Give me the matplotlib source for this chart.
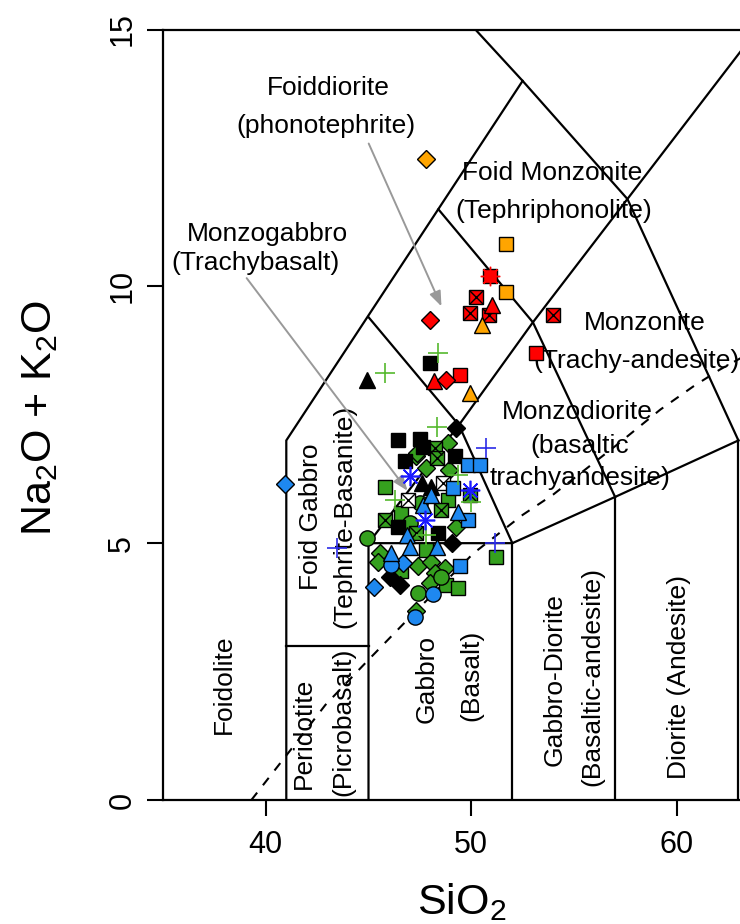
import matplotlib
matplotlib.use("Agg")
import matplotlib.pyplot as plt

plt.rcParams['font.family'] = ['Liberation Sans', 'DejaVu Sans']
plt.rcParams['mathtext.fontset'] = 'custom'
plt.rcParams['mathtext.rm'] = 'Liberation Sans'
plt.rcParams['mathtext.default'] = 'regular'

# ---------------- data (SiO2, Na2O+K2O) ----------------
green_sq_x = [45.82, 46.60, 48.87, 47.82, 51.22, 46.60, 48.79, 49.36]
green_sq_y = [6.10, 5.59, 5.84, 4.87, 4.74, 4.45, 4.19, 4.12]
green_dia_x = [48.87, 47.33, 48.90, 47.82, 47.35, 45.55, 45.47, 47.41, 48.06, 48.71, 48.22, 47.98, 47.33, 49.28]
green_dia_y = [6.95, 6.69, 6.43, 6.46, 6.76, 4.81, 4.64, 4.55, 4.64, 4.51, 4.42, 4.22, 3.67, 5.32]
green_circ_x = [44.95, 48.55, 47.41, 47.49, 47.00]
green_circ_y = [5.10, 4.35, 4.03, 5.78, 5.39]
green_bx_x = [48.22, 48.31, 49.93, 45.80, 48.55, 47.33]
green_bx_y = [6.85, 6.66, 5.94, 5.45, 5.65, 5.20]
green_plus_x = [48.31, 49.36, 50.00, 46.28, 47.82, 48.39, 45.79]
green_plus_y = [7.27, 6.33, 5.80, 5.84, 5.16, 8.70, 8.32]

black_sq_x = [46.44, 47.53, 47.66, 46.76, 49.20, 46.44, 48.39, 47.98]
black_sq_y = [7.01, 7.03, 6.88, 6.59, 6.69, 5.32, 5.20, 8.50]
black_dia_x = [49.28, 49.04, 46.03, 46.52]
black_dia_y = [7.24, 5.00, 4.35, 4.19]
black_tri_x = [44.92, 47.58, 48.06]
black_tri_y = [8.18, 6.17, 6.10]
black_bx_x = [48.63, 46.93]
black_bx_y = [6.17, 5.84]

blue_sq_x = [49.84, 50.41, 49.11, 49.84, 49.44]
blue_sq_y = [6.53, 6.53, 6.07, 5.45, 4.55]
blue_dia_x = [40.96, 46.68, 45.27]
blue_dia_y = [6.16, 4.61, 4.14]
blue_circ_x = [46.11, 48.14, 47.25]
blue_circ_y = [4.58, 4.01, 3.57]
blue_tri_x = [47.66, 48.06, 49.36, 46.85, 46.08, 47.01, 48.31]
blue_tri_y = [5.75, 5.94, 5.61, 5.16, 4.81, 4.93, 4.93]
blue_plus_x = [50.74, 51.14, 43.45]
blue_plus_y = [6.85, 5.00, 4.90]
blue_ast_x = [47.00, 49.93, 47.74]
blue_ast_y = [6.30, 6.04, 5.45]

red_sq_x = [50.93, 53.17, 49.43]
red_sq_y = [10.21, 8.70, 8.28]
red_ast_x = [50.93]
red_ast_y = [10.21]
red_bx_x = [50.25, 49.96, 50.87, 53.98]
red_bx_y = [9.80, 9.49, 9.45, 9.45]
red_tri_x = [51.03, 48.17]
red_tri_y = [9.64, 8.15]
red_dia_x = [48.01, 48.79]
red_dia_y = [9.34, 8.18]

orange_sq_x = [51.68, 51.68]
orange_sq_y = [10.83, 9.89]
orange_dia_x = [47.82]
orange_dia_y = [12.47]
orange_tri_x = [50.50, 49.93]
orange_tri_y = [9.25, 7.92]

divide_x = [39.3, 41.2, 42.9, 45.0, 46.8, 50.1, 52.5, 54.0, 57.2, 59.2, 60.8, 62.1, 63.1]
divide_y = [0.0, 0.97, 1.85, 2.73, 3.47, 4.80, 5.55, 5.95, 6.95, 7.60, 8.05, 8.38, 8.60]

# field boundaries
boundaries = [
    ([41, 41, 52.5, 50.2], [0, 7, 14, 15]),
    ([52.5, 57.6, 63], [14, 11.7, 7]),
    ([41, 45], [3, 3]),
    ([45, 45, 52, 57, 63], [0, 5, 5, 5.9, 7]),
    ([52, 52], [0, 5]),
    ([57, 57], [0, 5.9]),
    ([63, 63], [0, 7]),
    ([45, 49.4, 53, 57.6, 63.1], [5, 7.3, 9.3, 11.7, 14.57]),
    ([45, 49.4, 52], [9.4, 7.3, 5]),
    ([48.4, 53, 57], [11.5, 9.3, 5.9]),
]

labels_h = [
    ("Foiddiorite", 43.03, 13.86), ("(phonotephrite)", 42.94, 13.12),
    ("Foid Monzonite", 53.93, 12.21), ("(Tephriphonolite)", 54.01, 11.46),
    ("Monzogabbro", 40.06, 11.01), ("(Trachybasalt)", 39.48, 10.46),
    ("Monzonite", 58.42, 9.29), ("(Trachy-andesite)", 58.06, 8.54),
    ("Monzodiorite", 55.18, 7.56), ("(basaltic", 55.28, 6.90), ("trachyandesite)", 55.28, 6.27),
]
labels_v = [
    ("Foid Gabbro", 42.22, 5.52), ("(Tephrite-Basanite)", 43.84, 5.53),
    ("Foidolite", 37.96, 2.26),
    ("Peridotite", 41.87, 1.29), ("(Picrobasalt)", 43.78, 1.53),
    ("Gabbro", 47.84, 2.36), ("(Basalt)", 50.02, 2.42),
    ("Gabbro-Diorite", 54.04, 2.34), ("(Basaltic-andesite)", 55.88, 2.40),
    ("Diorite (Andesite)", 60.13, 2.40),
]
arrows = [((45.01, 12.78), (48.55, 9.61)), ((39.07, 10.16), (46.90, 6.02))]

# ---------------- figure ----------------
W, H = 740, 924
fig = plt.figure(figsize=(W / 100, H / 100), dpi=100)
ax = fig.add_axes([163 / W, 124 / H, 1 - 163 / W, (800 - 29.5) / H])
ax.set_xlim(35, 35 + (W - 163) / 20.55)
ax.set_ylim(0, 15)

for bx, by in boundaries:
    ax.plot(bx, by, color='black', lw=1.6, solid_joinstyle='miter', zorder=2)
ax.plot(divide_x, divide_y, color='black', lw=1.5, linestyle=(0, (4.5, 4.5)), zorder=2)

for t, x, y in labels_h:
    ax.text(x, y, t, fontsize=19, ha='center', va='center', zorder=3)
for t, x, y in labels_v:
    ax.text(x, y, t, fontsize=19, ha='center', va='center', rotation=90, zorder=3)

for (x0, y0), (x1, y1) in arrows:
    ax.annotate('', xy=(x1, y1), xytext=(x0, y0),
                arrowprops=dict(arrowstyle='-|>,head_length=0.9,head_width=0.35',
                                color='#999999', lw=1.4, shrinkA=0, shrinkB=0), zorder=4)

GREEN = '#35A01E'
BLUE = '#1E88F0'
RED = '#FF0000'
ORANGE = '#FFA500'
EW = 1.0
SQ, DI, CI, TR = 10.5, 9.0, 11.0, 12.0

def filled(xs, ys, marker, color, ms):
    ax.plot(xs, ys, linestyle='none', marker=marker, ms=ms, mfc=color,
            mec='black', mew=EW, zorder=5)

def boxed(xs, ys, color):
    ax.plot(xs, ys, linestyle='none', marker='s', ms=SQ, mfc=color, mec='black', mew=EW, zorder=5)
    ax.plot(xs, ys, linestyle='none', marker='x', ms=SQ - 1, mec='black', mew=EW, zorder=5)

# green group
filled(green_sq_x, green_sq_y, 's', GREEN, SQ)
filled(green_dia_x, green_dia_y, 'D', GREEN, DI)
filled(green_circ_x, green_circ_y, 'o', GREEN, CI)
boxed(green_bx_x, green_bx_y, GREEN)
ax.plot(green_plus_x, green_plus_y, linestyle='none', marker='+', ms=15, mew=1.2,
        color='#55B92E', zorder=6)
# black group
filled(black_sq_x, black_sq_y, 's', 'black', SQ)
filled(black_dia_x, black_dia_y, 'D', 'black', DI)
filled(black_tri_x, black_tri_y, '^', 'black', TR)
boxed(black_bx_x, black_bx_y, 'white')
# blue group
filled(blue_sq_x, blue_sq_y, 's', BLUE, SQ)
filled(blue_dia_x, blue_dia_y, 'D', BLUE, DI)
filled(blue_circ_x, blue_circ_y, 'o', BLUE, CI)
filled(blue_tri_x, blue_tri_y, '^', BLUE, TR)
ax.plot(blue_plus_x, blue_plus_y, linestyle='none', marker='+', ms=15, mew=1.2,
        color='#2B2BE8', zorder=6)
ax.plot(blue_ast_x, blue_ast_y, linestyle='none', marker=(8, 2, 0), ms=14, mew=1.2,
        color='#1A1AFF', zorder=6)
# red group
filled(red_sq_x, red_sq_y, 's', RED, SQ)
ax.plot(red_ast_x, red_ast_y, linestyle='none', marker=(8, 2, 0), ms=14, mew=1.0,
        color=RED, zorder=6)
boxed(red_bx_x, red_bx_y, RED)
filled(red_tri_x, red_tri_y, '^', RED, TR)
filled(red_dia_x, red_dia_y, 'D', RED, DI)
# orange group
filled(orange_sq_x, orange_sq_y, 's', ORANGE, SQ)
filled(orange_dia_x, orange_dia_y, 'D', ORANGE, DI)
filled(orange_tri_x, orange_tri_y, '^', ORANGE, TR)

# axes styling
ax.spines['right'].set_visible(False)
for s in ['left', 'bottom', 'top']:
    ax.spines[s].set_linewidth(1.6)
ax.set_xticks([40, 50, 60])
ax.set_yticks([0, 5, 10, 15])
ax.tick_params(direction='out', length=11.5, width=1.5, labelsize=22)
ax.tick_params(axis='x', pad=10)
ax.tick_params(axis='y', pad=7)
for lab in ax.get_yticklabels():
    lab.set_rotation(90)
    lab.set_va('center')

fig.text(462 / W, 1 - 902 / H, 'SiO$_2$', fontsize=31, ha='center', va='center')
fig.text(40 / W, 1 - 418 / H, 'Na$_2$O + K$_2$O', fontsize=31, ha='center', va='center', rotation=90)

fig.savefig('out.png', dpi=100)
